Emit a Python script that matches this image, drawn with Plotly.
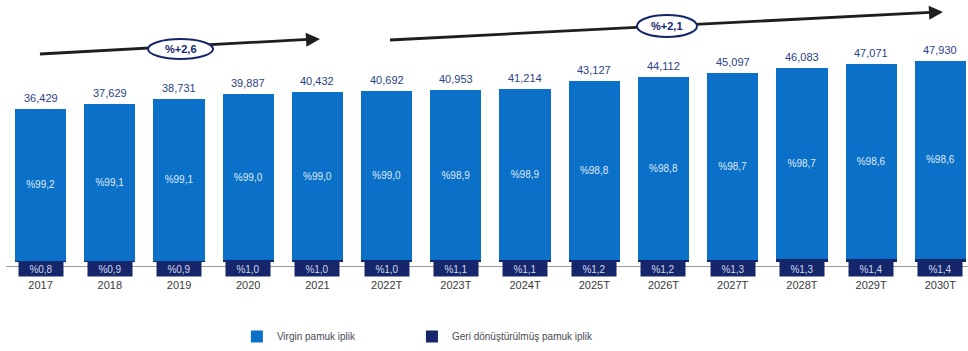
import plotly.graph_objects as go

# Yarn consumption by year (thousand tonnes) and share by fibre origin
years = ["2017", "2018", "2019", "2020", "2021", "2022T", "2023T", "2024T",
         "2025T", "2026T", "2027T", "2028T", "2029T", "2030T"]
totals = [36429, 37629, 38731, 39887, 40432, 40692, 40953, 41214,
          43127, 44112, 45097, 46083, 47071, 47930]
virgin_pct = [99.2, 99.1, 99.1, 99.0, 99.0, 99.0, 98.9, 98.9,
              98.8, 98.8, 98.7, 98.7, 98.6, 98.6]
recycled_pct = [0.8, 0.9, 0.9, 1.0, 1.0, 1.0, 1.1, 1.1,
                1.2, 1.2, 1.3, 1.3, 1.4, 1.4]
cagr_labels = ["%+2,6", "%+2,1"]

BLUE = "#0b70c8"
NAVY = "#16266b"
LABEL_NAVY = "#2b4384"
FONT = "Liberation Sans, Arial, sans-serif"


def pct_text(p):
    return "%" + f"{p:.1f}".replace(".", ",")


def total_text(v):
    return f"{v:,}"


virgin_vals = [t * p / 100 for t, p in zip(totals, virgin_pct)]
recycled_vals = [t * p / 100 for t, p in zip(totals, recycled_pct)]

fig = go.Figure()
fig.add_trace(go.Bar(
    x=years, y=recycled_vals, name="Geri dönüştürülmüş pamuk iplik",
    marker=dict(color=NAVY, line=dict(width=0)), hoverinfo="skip",
    legend="legend2",
))
fig.add_trace(go.Bar(
    x=years, y=virgin_vals, name="Virgin pamuk iplik",
    marker=dict(color=BLUE, line=dict(width=0)),
    text=[pct_text(p) for p in virgin_pct], textposition="inside",
    insidetextanchor="middle",
    textfont=dict(family=FONT, size=10, color="#dfeaf7"),
    legend="legend",
))

annotations = []
# Totals above each bar (category index positions)
for i, t in enumerate(totals):
    annotations.append(dict(
        x=i, y=t, xref="x", yref="y", text=total_text(t), showarrow=False,
        xanchor="center", yanchor="bottom", yshift=3,
        font=dict(family=FONT, size=11, color=LABEL_NAVY),
    ))
# Recycled share tags at the foot of each bar
for i, p in enumerate(recycled_pct):
    annotations.append(dict(
        x=i, y=0, xref="x", yref="y", text=pct_text(p), showarrow=False,
        xanchor="center", yanchor="middle", yshift=-7, width=42, height=12,
        bgcolor=NAVY, borderpad=1,
        font=dict(family=FONT, size=10, color="#cfd8f0"),
    ))

# Growth arrows: line segments plus a short annotation arrow for each head
arrows = [
    ((0.0353, 0.8281), (0.3264, 0.8867), 0.75),
    ((0.3992, 0.8828), (0.9740, 0.9922), 0.70),
]
shapes = []
for (x0, y0), (x1, y1), ay in arrows:
    shapes.append(dict(type="line", xref="paper", yref="paper",
                       x0=x0, y0=y0, x1=x1 - 0.008, y1=y1 - 0.0005,
                       line=dict(color="#1e1e1e", width=2.8)))
    annotations.append(dict(
        x=x1, y=y1, xref="paper", yref="paper", text="", showarrow=True,
        ax=-14, ay=ay, arrowhead=2, arrowsize=1, arrowwidth=2.8,
        arrowcolor="#1e1e1e",
    ))

ellipses = [
    (0.1476, 0.8086, 0.2152, 0.8867),
    (0.6559, 0.8945, 0.7183, 0.9805),
]
for (x0, y0, x1, y1), lab in zip(ellipses, cagr_labels):
    shapes.append(dict(type="circle", xref="paper", yref="paper",
                       x0=x0, y0=y0, x1=x1, y1=y1, fillcolor="white",
                       line=dict(color=NAVY, width=2), layer="above"))
    annotations.append(dict(
        x=(x0 + x1) / 2, y=(y0 + y1) / 2, xref="paper", yref="paper",
        xanchor="center", yanchor="middle",
        text=f"<b>{lab}</b>", showarrow=False,
        font=dict(family=FONT, size=11, color=NAVY),
    ))

legend_style = dict(orientation="h", xanchor="left", y=-0.277,
                    yanchor="middle", itemwidth=30,
                    font=dict(family=FONT, size=10, color="#4a4a55"))

fig.update_layout(
    width=968, height=351,
    margin=dict(l=6, r=0, t=10, b=85),
    barmode="stack", bargap=0.26,
    plot_bgcolor="white", paper_bgcolor="white",
    showlegend=True,
    legend=dict(x=0.240, **legend_style),
    legend2=dict(x=0.422, **legend_style),
    xaxis=dict(type="category", range=[-0.5, 13.4], showgrid=False,
               showline=True, linecolor="#9a9a9a", linewidth=1,
               ticks="outside", ticklen=9, tickcolor="rgba(0,0,0,0)",
               tickfont=dict(family=FONT, size=11, color="#3a3a3a")),
    yaxis=dict(range=[-952, 59976], visible=False, showgrid=False,
               zeroline=False),
    annotations=annotations,
    shapes=shapes,
)

fig.write_html("out.html")
